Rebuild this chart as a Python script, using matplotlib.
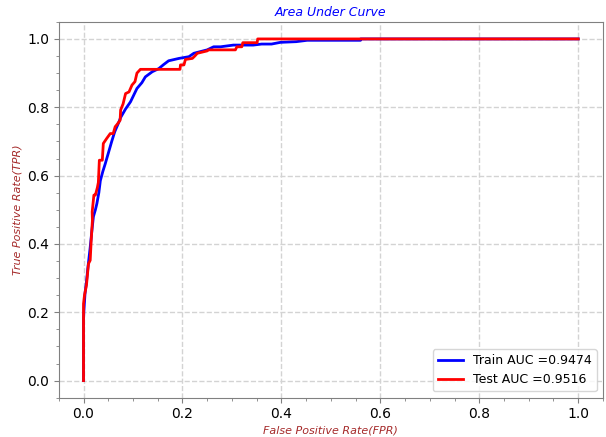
import matplotlib
matplotlib.use("Agg")
import matplotlib.pyplot as plt
from matplotlib.ticker import MultipleLocator

# train roc
train_fpr = [0.0, 0.0, 0.001, 0.003, 0.006, 0.009, 0.0135, 0.017, 0.02, 0.024, 0.027,
             0.031, 0.034, 0.039, 0.044, 0.05, 0.057, 0.063, 0.071, 0.075, 0.085,
             0.095, 0.108, 0.118, 0.125, 0.139, 0.152, 0.162, 0.172, 0.193, 0.213,
             0.223, 0.25, 0.263, 0.277, 0.303, 0.343, 0.36, 0.38, 0.398, 0.43,
             0.452, 0.56, 0.56, 1.0]
train_tpr = [0.0, 0.18, 0.21, 0.254, 0.29, 0.332, 0.39, 0.44, 0.48, 0.5, 0.518,
             0.55, 0.585, 0.612, 0.635, 0.665, 0.7, 0.728, 0.755, 0.77, 0.795,
             0.816, 0.855, 0.872, 0.889, 0.904, 0.913, 0.925, 0.936, 0.943, 0.948,
             0.958, 0.968, 0.977, 0.977, 0.982, 0.982, 0.985, 0.985, 0.99, 0.992,
             0.996, 0.996, 1.0, 1.0]

# test roc, staircase
test_fpr = [0.0, 0.0, 0.002, 0.006, 0.01, 0.0135, 0.0155, 0.018, 0.0175, 0.021,
            0.024, 0.028, 0.03, 0.032, 0.038, 0.04, 0.047, 0.054, 0.06, 0.064,
            0.068, 0.074, 0.075, 0.08, 0.085, 0.092, 0.098, 0.104, 0.108, 0.115,
            0.195, 0.196, 0.203, 0.206, 0.22, 0.225, 0.23, 0.25, 0.252, 0.307,
            0.31, 0.32, 0.322, 0.351, 0.352, 1.0]
test_tpr = [0.0, 0.225, 0.25, 0.28, 0.342, 0.352, 0.41, 0.469, 0.494, 0.543,
            0.543, 0.565, 0.58, 0.645, 0.645, 0.694, 0.709, 0.723, 0.723, 0.743,
            0.75, 0.762, 0.792, 0.81, 0.84, 0.845, 0.865, 0.875, 0.9, 0.911,
            0.911, 0.924, 0.924, 0.94, 0.943, 0.95, 0.958, 0.965, 0.968, 0.968,
            0.977, 0.977, 0.989, 0.989, 1.0, 1.0]

train_auc = 0.9474
test_auc = 0.9516

fig, ax = plt.subplots(figsize=(6.06, 4.37), dpi=100)
ax.plot(train_fpr, train_tpr, color='blue', lw=2, label=f'Train AUC ={train_auc}')
ax.plot(test_fpr, test_tpr, color='red', lw=2, label=f'Test AUC ={test_auc}')

ax.set_title('Area Under Curve', color='blue', style='italic', fontsize=9, pad=4)
ax.set_xlabel('False Positive Rate(FPR)', color='brown', style='italic', fontsize=8, labelpad=3)
ax.set_ylabel('True Positive Rate(TPR)', color='brown', style='italic', fontsize=8, labelpad=3)

ax.xaxis.set_minor_locator(MultipleLocator(0.05))
ax.yaxis.set_minor_locator(MultipleLocator(0.05))
ax.grid(True, which='major', ls='--', color='lightgray', lw=1)
for s in ax.spines.values():
    s.set_color('gray')
ax.tick_params(which='both', color='gray')
ax.legend(loc='lower right', fontsize=9)

fig.subplots_adjust(left=0.097, right=0.995, top=0.95, bottom=0.09)
fig.savefig('out.png')
